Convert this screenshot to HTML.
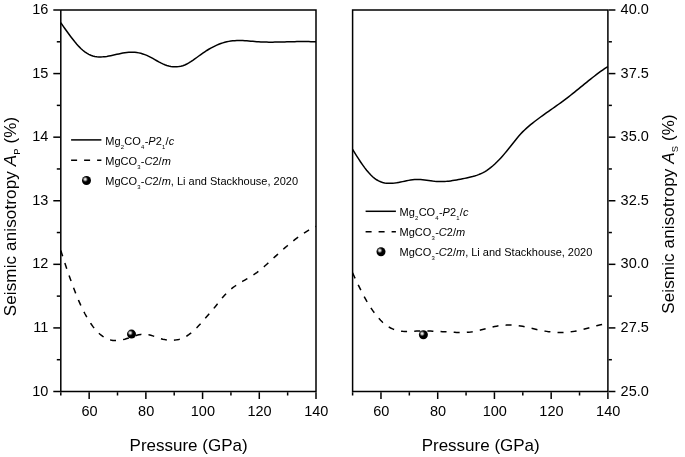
<!DOCTYPE html>
<html><head><meta charset="utf-8"><title>Seismic anisotropy</title>
<style>html,body{margin:0;padding:0;background:#fff}svg{display:block;will-change:transform;filter:grayscale(1)}</style></head>
<body>
<svg width="685" height="457" viewBox="0 0 685 457">
<defs><radialGradient id="sp" cx="0.36" cy="0.365" r="0.33"><stop offset="0" stop-color="#f2f2f2"/><stop offset="0.25" stop-color="#dcdcdc"/><stop offset="0.55" stop-color="#777"/><stop offset="0.8" stop-color="#1c1c1c"/><stop offset="1" stop-color="#000"/></radialGradient></defs>
<rect width="685" height="457" fill="#fff"/>
<g stroke="#000" stroke-width="1.5" fill="none" stroke-linecap="butt">
<path d="M60.80,10.00 H316.00 V391.50 H60.80 Z" stroke-linejoin="miter"/>
<path d="M60.80,392.25 V395.50"/>
<path d="M89.16,392.25 V399.00"/>
<path d="M117.51,392.25 V395.50"/>
<path d="M145.87,392.25 V399.00"/>
<path d="M174.22,392.25 V395.50"/>
<path d="M202.58,392.25 V399.00"/>
<path d="M230.93,392.25 V395.50"/>
<path d="M259.29,392.25 V399.00"/>
<path d="M287.64,392.25 V395.50"/>
<path d="M316.00,392.25 V399.00"/>
<path d="M53.30,10.00 H60.05"/>
<path d="M56.80,41.79 H60.05"/>
<path d="M53.30,73.58 H60.05"/>
<path d="M56.80,105.38 H60.05"/>
<path d="M53.30,137.17 H60.05"/>
<path d="M56.80,168.96 H60.05"/>
<path d="M53.30,200.75 H60.05"/>
<path d="M56.80,232.54 H60.05"/>
<path d="M53.30,264.33 H60.05"/>
<path d="M56.80,296.12 H60.05"/>
<path d="M53.30,327.92 H60.05"/>
<path d="M56.80,359.71 H60.05"/>
<path d="M53.30,391.50 H60.05"/>
<path d="M352.60,10.00 H607.90 V391.50 H352.60 Z" stroke-linejoin="miter"/>
<path d="M352.60,392.25 V395.50"/>
<path d="M380.97,392.25 V399.00"/>
<path d="M409.33,392.25 V395.50"/>
<path d="M437.70,392.25 V399.00"/>
<path d="M466.07,392.25 V395.50"/>
<path d="M494.43,392.25 V399.00"/>
<path d="M522.80,392.25 V395.50"/>
<path d="M551.17,392.25 V399.00"/>
<path d="M579.53,392.25 V395.50"/>
<path d="M607.90,392.25 V399.00"/>
<path d="M608.65,10.00 H615.40"/>
<path d="M608.65,41.79 H611.90"/>
<path d="M608.65,73.58 H615.40"/>
<path d="M608.65,105.38 H611.90"/>
<path d="M608.65,137.17 H615.40"/>
<path d="M608.65,168.96 H611.90"/>
<path d="M608.65,200.75 H615.40"/>
<path d="M608.65,232.54 H611.90"/>
<path d="M608.65,264.33 H615.40"/>
<path d="M608.65,296.12 H611.90"/>
<path d="M608.65,327.92 H615.40"/>
<path d="M608.65,359.71 H611.90"/>
<path d="M608.65,391.50 H615.40"/>
<path d="M60.80,22.79 L62.80,25.62 L64.80,28.46 L66.80,31.27 L68.80,34.03 L70.80,36.73 L72.80,39.33 L74.80,41.83 L76.80,44.19 L78.80,46.40 L80.80,48.43 L82.80,50.26 L84.80,51.87 L86.80,53.23 L88.80,54.35 L90.80,55.25 L92.80,55.94 L94.80,56.43 L96.80,56.76 L98.80,56.92 L100.80,56.96 L102.80,56.87 L104.80,56.67 L106.80,56.40 L108.80,56.05 L110.80,55.66 L112.80,55.23 L114.80,54.79 L116.80,54.34 L118.80,53.91 L120.80,53.49 L122.80,53.11 L124.80,52.77 L126.80,52.50 L128.80,52.31 L130.80,52.20 L132.80,52.19 L134.80,52.30 L136.80,52.53 L138.80,52.88 L140.80,53.34 L142.80,53.93 L144.80,54.62 L146.80,55.42 L148.80,56.33 L150.80,57.33 L152.80,58.44 L154.80,59.59 L156.80,60.76 L158.80,61.89 L160.80,62.95 L162.80,63.90 L164.80,64.73 L166.80,65.43 L168.80,65.99 L170.80,66.41 L172.80,66.68 L174.80,66.81 L176.80,66.77 L178.80,66.58 L180.80,66.21 L182.80,65.67 L184.80,64.95 L186.80,64.05 L188.80,62.96 L190.80,61.73 L192.80,60.38 L194.80,58.96 L196.80,57.48 L198.80,56.00 L200.80,54.54 L202.80,53.13 L204.80,51.78 L206.80,50.49 L208.80,49.27 L210.80,48.12 L212.80,47.05 L214.80,46.06 L216.80,45.14 L218.80,44.31 L220.80,43.56 L222.80,42.89 L224.80,42.30 L226.80,41.80 L228.80,41.38 L230.80,41.05 L232.80,40.80 L234.80,40.64 L236.80,40.54 L238.80,40.51 L240.80,40.54 L242.80,40.61 L244.80,40.71 L246.80,40.85 L248.80,41.01 L250.80,41.18 L252.80,41.35 L254.80,41.52 L256.80,41.68 L258.80,41.82 L260.80,41.93 L262.80,42.01 L264.80,42.08 L266.80,42.12 L268.80,42.14 L270.80,42.15 L272.80,42.14 L274.80,42.12 L276.80,42.09 L278.80,42.06 L280.80,42.01 L282.80,41.96 L284.80,41.91 L286.80,41.86 L288.80,41.80 L290.80,41.75 L292.80,41.70 L294.80,41.66 L296.80,41.62 L298.80,41.59 L300.80,41.56 L302.80,41.55 L304.80,41.55 L306.80,41.57 L308.80,41.60 L310.80,41.64 L312.80,41.71 L314.80,41.79 L316.00,41.85"/>
<path d="M60.80,250.54 L62.80,256.74 L64.80,262.85 L66.80,268.84 L68.80,274.68 L70.80,280.35 L72.80,285.84 L74.80,291.10 L76.80,296.13 L78.80,300.90 L80.80,305.39 L82.80,309.59 L84.80,313.50 L86.80,317.13 L88.80,320.48 L90.80,323.56 L92.80,326.36 L94.80,328.90 L96.80,331.18 L98.80,333.19 L100.80,334.95 L102.80,336.45 L104.80,337.71 L106.80,338.72 L108.80,339.50 L110.80,340.05 L112.80,340.40 L114.80,340.56 L116.80,340.55 L118.80,340.39 L120.80,340.09 L122.80,339.68 L124.80,339.16 L126.80,338.56 L128.80,337.92 L130.80,337.24 L132.80,336.57 L134.80,335.92 L136.80,335.31 L138.80,334.79 L140.80,334.39 L142.80,334.15 L144.80,334.11 L146.80,334.31 L148.80,334.70 L150.80,335.25 L152.80,335.91 L154.80,336.63 L156.80,337.35 L158.80,338.03 L160.80,338.64 L162.80,339.16 L164.80,339.60 L166.80,339.94 L168.80,340.17 L170.80,340.28 L172.80,340.27 L174.80,340.12 L176.80,339.84 L178.80,339.40 L180.80,338.81 L182.80,338.05 L184.80,337.12 L186.80,336.00 L188.80,334.69 L190.80,333.18 L192.80,331.49 L194.80,329.65 L196.80,327.68 L198.80,325.59 L200.80,323.42 L202.80,321.18 L204.80,318.89 L206.80,316.59 L208.80,314.28 L210.80,311.96 L212.80,309.59 L214.80,307.17 L216.80,304.68 L218.80,302.15 L220.80,299.65 L222.80,297.24 L224.80,294.99 L226.80,292.92 L228.80,291.04 L230.80,289.31 L232.80,287.72 L234.80,286.25 L236.80,284.88 L238.80,283.59 L240.80,282.37 L242.80,281.19 L244.80,280.03 L246.80,278.88 L248.80,277.72 L250.80,276.52 L252.80,275.27 L254.80,273.96 L256.80,272.55 L258.80,271.04 L260.80,269.45 L262.80,267.78 L264.80,266.05 L266.80,264.28 L268.80,262.46 L270.80,260.62 L272.80,258.77 L274.80,256.92 L276.80,255.08 L278.80,253.26 L280.80,251.46 L282.80,249.68 L284.80,247.93 L286.80,246.21 L288.80,244.52 L290.80,242.87 L292.80,241.26 L294.80,239.69 L296.80,238.16 L298.80,236.68 L300.80,235.25 L302.80,233.87 L304.80,232.55 L306.80,231.28 L308.80,230.08 L310.80,228.94 L312.80,227.87 L314.80,226.87 L316.00,226.31" stroke-dasharray="6 7.12"/>
<path d="M352.60,149.52 L354.60,152.70 L356.60,155.86 L358.60,158.95 L360.60,161.96 L362.60,164.85 L364.60,167.61 L366.60,170.20 L368.60,172.60 L370.60,174.78 L372.60,176.71 L374.60,178.37 L376.60,179.75 L378.60,180.87 L380.60,181.76 L382.60,182.43 L384.60,182.91 L386.60,183.21 L388.60,183.35 L390.60,183.36 L392.60,183.26 L394.60,183.05 L396.60,182.77 L398.60,182.42 L400.60,182.03 L402.60,181.61 L404.60,181.19 L406.60,180.77 L408.60,180.37 L410.60,180.02 L412.60,179.74 L414.60,179.53 L416.60,179.42 L418.60,179.41 L420.60,179.51 L422.60,179.67 L424.60,179.90 L426.60,180.16 L428.60,180.45 L430.60,180.73 L432.60,181.01 L434.60,181.24 L436.60,181.42 L438.60,181.54 L440.60,181.58 L442.60,181.55 L444.60,181.47 L446.60,181.33 L448.60,181.13 L450.60,180.89 L452.60,180.61 L454.60,180.30 L456.60,179.95 L458.60,179.58 L460.60,179.19 L462.60,178.78 L464.60,178.37 L466.60,177.94 L468.60,177.51 L470.60,177.05 L472.60,176.55 L474.60,175.99 L476.60,175.35 L478.60,174.63 L480.60,173.81 L482.60,172.87 L484.60,171.80 L486.60,170.57 L488.60,169.19 L490.60,167.67 L492.60,166.00 L494.60,164.21 L496.60,162.29 L498.60,160.27 L500.60,158.14 L502.60,155.92 L504.60,153.62 L506.60,151.24 L508.60,148.80 L510.60,146.30 L512.60,143.77 L514.60,141.22 L516.60,138.72 L518.60,136.30 L520.60,134.02 L522.60,131.89 L524.60,129.93 L526.60,128.09 L528.60,126.36 L530.60,124.70 L532.60,123.09 L534.60,121.53 L536.60,120.00 L538.60,118.50 L540.60,117.02 L542.60,115.57 L544.60,114.14 L546.60,112.72 L548.60,111.31 L550.60,109.91 L552.60,108.51 L554.60,107.10 L556.60,105.69 L558.60,104.26 L560.60,102.82 L562.60,101.36 L564.60,99.87 L566.60,98.36 L568.60,96.82 L570.60,95.25 L572.60,93.66 L574.60,92.06 L576.60,90.44 L578.60,88.81 L580.60,87.18 L582.60,85.55 L584.60,83.92 L586.60,82.30 L588.60,80.69 L590.60,79.10 L592.60,77.52 L594.60,75.97 L596.60,74.44 L598.60,72.94 L600.60,71.48 L602.60,70.06 L604.60,68.68 L606.60,67.35 L607.90,66.51"/>
<path d="M352.60,272.91 L354.60,277.27 L356.60,281.54 L358.60,285.68 L360.60,289.70 L362.60,293.58 L364.60,297.30 L366.60,300.86 L368.60,304.24 L370.60,307.43 L372.60,310.42 L374.60,313.19 L376.60,315.76 L378.60,318.13 L380.60,320.28 L382.60,322.23 L384.60,323.98 L386.60,325.52 L388.60,326.86 L390.60,327.99 L392.60,328.93 L394.60,329.70 L396.60,330.30 L398.60,330.75 L400.60,331.08 L402.60,331.29 L404.60,331.41 L406.60,331.45 L408.60,331.44 L410.60,331.38 L412.60,331.29 L414.60,331.20 L416.60,331.11 L418.60,331.05 L420.60,331.01 L422.60,330.99 L424.60,330.98 L426.60,331.00 L428.60,331.04 L430.60,331.09 L432.60,331.15 L434.60,331.23 L436.60,331.32 L438.60,331.41 L440.60,331.52 L442.60,331.63 L444.60,331.75 L446.60,331.87 L448.60,331.99 L450.60,332.11 L452.60,332.23 L454.60,332.33 L456.60,332.41 L458.60,332.46 L460.60,332.49 L462.60,332.47 L464.60,332.42 L466.60,332.31 L468.60,332.16 L470.60,331.94 L472.60,331.65 L474.60,331.31 L476.60,330.91 L478.60,330.46 L480.60,329.98 L482.60,329.48 L484.60,328.97 L486.60,328.45 L488.60,327.93 L490.60,327.44 L492.60,326.97 L494.60,326.54 L496.60,326.16 L498.60,325.83 L500.60,325.55 L502.60,325.34 L504.60,325.18 L506.60,325.07 L508.60,325.02 L510.60,325.03 L512.60,325.09 L514.60,325.21 L516.60,325.39 L518.60,325.62 L520.60,325.91 L522.60,326.26 L524.60,326.66 L526.60,327.10 L528.60,327.57 L530.60,328.06 L532.60,328.55 L534.60,329.04 L536.60,329.50 L538.60,329.94 L540.60,330.35 L542.60,330.72 L544.60,331.07 L546.60,331.37 L548.60,331.65 L550.60,331.88 L552.60,332.08 L554.60,332.24 L556.60,332.35 L558.60,332.42 L560.60,332.45 L562.60,332.43 L564.60,332.37 L566.60,332.25 L568.60,332.09 L570.60,331.87 L572.60,331.60 L574.60,331.28 L576.60,330.91 L578.60,330.49 L580.60,330.03 L582.60,329.55 L584.60,329.04 L586.60,328.51 L588.60,327.96 L590.60,327.41 L592.60,326.86 L594.60,326.31 L596.60,325.78 L598.60,325.26 L600.60,324.76 L602.60,324.29 L604.60,323.86 L606.60,323.47 L607.90,323.24" stroke-dasharray="6 7.16"/>
<path d="M71.10,139.90 h30.3"/>
<path d="M71.10,160.30 h30.3" stroke-dasharray="6 7"/>
<path d="M365.60,211.30 h30.3"/>
<path d="M365.60,231.70 h30.3" stroke-dasharray="6 7"/>
</g>
<circle cx="131.50" cy="334.10" r="4.5" fill="url(#sp)"/>
<circle cx="423.40" cy="334.80" r="4.5" fill="url(#sp)"/>
<circle cx="86.50" cy="180.50" r="4.5" fill="url(#sp)"/>
<circle cx="381.00" cy="251.70" r="4.5" fill="url(#sp)"/>
<g font-family="Liberation Sans, sans-serif" fill="#000">
<text x="89.46" y="415.8" font-size="14.5" text-anchor="middle">60</text>
<text x="146.17" y="415.8" font-size="14.5" text-anchor="middle">80</text>
<text x="202.88" y="415.8" font-size="14.5" text-anchor="middle">100</text>
<text x="259.59" y="415.8" font-size="14.5" text-anchor="middle">120</text>
<text x="316.30" y="415.8" font-size="14.5" text-anchor="middle">140</text>
<text x="381.27" y="415.8" font-size="14.5" text-anchor="middle">60</text>
<text x="438.00" y="415.8" font-size="14.5" text-anchor="middle">80</text>
<text x="494.73" y="415.8" font-size="14.5" text-anchor="middle">100</text>
<text x="551.47" y="415.8" font-size="14.5" text-anchor="middle">120</text>
<text x="608.20" y="415.8" font-size="14.5" text-anchor="middle">140</text>
<text x="48.3" y="14.00" font-size="14.5" text-anchor="end">16</text>
<text x="48.3" y="77.58" font-size="14.5" text-anchor="end">15</text>
<text x="48.3" y="141.17" font-size="14.5" text-anchor="end">14</text>
<text x="48.3" y="204.75" font-size="14.5" text-anchor="end">13</text>
<text x="48.3" y="268.33" font-size="14.5" text-anchor="end">12</text>
<text x="48.3" y="331.92" font-size="14.5" text-anchor="end">11</text>
<text x="48.3" y="395.50" font-size="14.5" text-anchor="end">10</text>
<text x="620.6" y="14.00" font-size="14.5" text-anchor="start">40.0</text>
<text x="620.6" y="77.58" font-size="14.5" text-anchor="start">37.5</text>
<text x="620.6" y="141.17" font-size="14.5" text-anchor="start">35.0</text>
<text x="620.6" y="204.75" font-size="14.5" text-anchor="start">32.5</text>
<text x="620.6" y="268.33" font-size="14.5" text-anchor="start">30.0</text>
<text x="620.6" y="331.92" font-size="14.5" text-anchor="start">27.5</text>
<text x="620.6" y="395.50" font-size="14.5" text-anchor="start">25.0</text>
<text x="188.6" y="450.9" font-size="17" text-anchor="middle">Pressure (GPa)</text>
<text x="480.7" y="450.9" font-size="17" text-anchor="middle">Pressure (GPa)</text>
<text transform="translate(16.40,216.50) rotate(-90)" font-size="17" text-anchor="middle" textLength="199.5" lengthAdjust="spacing">Seismic anisotropy <tspan font-style="italic">A</tspan><tspan font-size="9.4" dy="4">P</tspan><tspan dy="-4"> (%)</tspan></text>
<text transform="translate(673.80,214.00) rotate(-90)" font-size="17" text-anchor="middle" textLength="199.5" lengthAdjust="spacing">Seismic anisotropy <tspan font-style="italic">A</tspan><tspan font-size="9.4" dy="4">S</tspan><tspan dy="-4"> (%)</tspan></text>
<text x="105.30" y="144.80" font-size="11">Mg<tspan font-size="5.9" dy="4.2" dx="0.2">2</tspan><tspan dy="-4.2" dx="0.3">CO</tspan><tspan font-size="5.9" dy="4.2" dx="0.2">4</tspan><tspan dy="-4.2" dx="0.3">-</tspan><tspan font-style="italic">P</tspan>2<tspan font-size="5.9" dy="4.2" dx="0.2">1</tspan><tspan dy="-4.2" dx="0.3">/</tspan><tspan font-style="italic">c</tspan></text>
<text x="105.30" y="164.80" font-size="11">MgCO<tspan font-size="5.9" dy="4.2" dx="0.2">3</tspan><tspan dy="-4.2" dx="0.3">-</tspan><tspan font-style="italic">C</tspan>2/<tspan font-style="italic">m</tspan></text>
<text x="105.30" y="184.80" font-size="11">MgCO<tspan font-size="5.9" dy="4.2" dx="0.2">3</tspan><tspan dy="-4.2" dx="0.3">-</tspan><tspan font-style="italic">C</tspan>2/<tspan font-style="italic">m</tspan>, Li and Stackhouse, 2020</text>
<text x="399.60" y="216.00" font-size="11">Mg<tspan font-size="5.9" dy="4.2" dx="0.2">2</tspan><tspan dy="-4.2" dx="0.3">CO</tspan><tspan font-size="5.9" dy="4.2" dx="0.2">4</tspan><tspan dy="-4.2" dx="0.3">-</tspan><tspan font-style="italic">P</tspan>2<tspan font-size="5.9" dy="4.2" dx="0.2">1</tspan><tspan dy="-4.2" dx="0.3">/</tspan><tspan font-style="italic">c</tspan></text>
<text x="399.60" y="236.00" font-size="11">MgCO<tspan font-size="5.9" dy="4.2" dx="0.2">3</tspan><tspan dy="-4.2" dx="0.3">-</tspan><tspan font-style="italic">C</tspan>2/<tspan font-style="italic">m</tspan></text>
<text x="399.60" y="256.00" font-size="11">MgCO<tspan font-size="5.9" dy="4.2" dx="0.2">3</tspan><tspan dy="-4.2" dx="0.3">-</tspan><tspan font-style="italic">C</tspan>2/<tspan font-style="italic">m</tspan>, Li and Stackhouse, 2020</text>
</g>
</svg>
</body></html>
